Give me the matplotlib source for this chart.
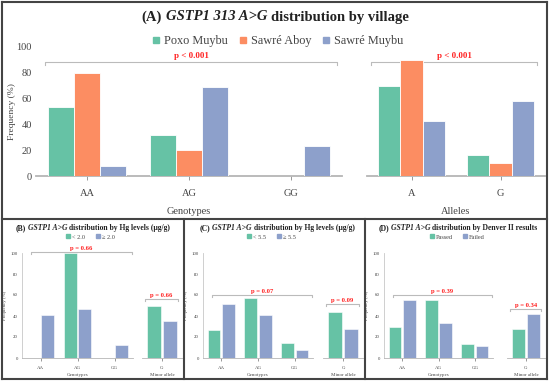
import matplotlib.pyplot as plt
import numpy as np
from matplotlib.lines import Line2D

plt.rcParams['font.family'] = ['Liberation Serif', 'DejaVu Serif']

W, H = 550, 382
GREEN, ORANGE, BLUE = '#66c2a5', '#fc8d62', '#8da0cb'
TXT = '#444444'

# (A) village panel
villages = ['Poxo Muybu', 'Sawré Aboy', 'Sawré Muybu']
genotypes = ['AA', 'AG', 'GG']
alleles = ['A', 'G']
village_genotype = [[53.5, 32, 0], [80, 20, 0], [8, 69, 23]]
village_allele = [[70, 16.5], [90, 10], [42.5, 58]]
village_p = ['p < 0.001', 'p < 0.001']

# (B)-(D) small panels
minor = ['G']
hg2_groups = ['< 2.0', '≥ 2.0']
hg2_genotype = [[0, 100, 0], [41, 46.5, 12]]
hg2_minor = [50, 35.5]
hg2_p = ['p = 0.66', 'p = 0.66']

hg55_groups = ['< 5.5', '≥ 5.5']
hg55_genotype = [[27, 57.5, 14.5], [51.5, 40.5, 8]]
hg55_minor = [43.5, 28]
hg55_p = ['p = 0.07', 'p = 0.09']

denver_groups = ['Passed', 'Failed']
denver_genotype = [[30, 55.5, 13.5], [55.5, 33, 11]]
denver_minor = [27.5, 41.5]
denver_p = ['p = 0.39', 'p = 0.34']

fig = plt.figure(figsize=(W / 100, H / 100), dpi=100)


def px_axes(x0, x1, ytop, ybot):
    return fig.add_axes([x0 / W, 1 - ybot / H, (x1 - x0) / W, (ybot - ytop) / H])


def rich_text(xc, yc, parts, size, color='#222222'):
    r = fig.canvas.get_renderer()

    def width(s, st):
        t = fig.text(0, 0, s, fontsize=size, fontweight='bold', fontstyle=st)
        w = t.get_window_extent(r).width
        t.remove()
        return w

    gap = width('n n', 'normal') - width('nn', 'normal')
    widths = [width(s, st) for s, st in parts]
    x = xc - (sum(widths) + gap * (len(parts) - 1)) / 2
    for (s, st), w in zip(parts, widths):
        fig.text(x / W, 1 - yc / H, s, fontsize=size, fontweight='bold',
                 fontstyle=st, ha='left', va='center', color=color)
        x += w + gap


def style_axis(ax, cats, size, tick_len, tick_pad, base_lw, show_y, left_spine):
    for s in ['top', 'right']:
        ax.spines[s].set_visible(False)
    ax.spines['bottom'].set_color('#b5b5b5')
    ax.spines['bottom'].set_linewidth(base_lw)
    ax.spines['left'].set_visible(left_spine)
    ax.spines['left'].set_color('#c8c8c8')
    ax.spines['left'].set_linewidth(0.6)
    ax.set_xticks(range(len(cats)))
    ax.set_xticklabels(cats)
    ax.set_xlim(-0.5, len(cats) - 0.5)
    ax.set_ylim(0, 100)
    ax.tick_params(axis='x', length=tick_len, width=0.6, color='#888888',
                   labelsize=size, labelcolor=TXT, pad=tick_pad)
    if show_y:
        ax.set_yticks(range(0, 101, 20))
        ax.tick_params(axis='y', length=0, labelsize=size, labelcolor=TXT, pad=3)
    else:
        ax.set_yticks([])
    ax.patch.set_alpha(0)


def bracket(ax, x0, x1, y, label, size, drop, dy):
    ax.plot([x0, x0, x1, x1], [y - drop, y, y, y - drop], color='#bbbbbb',
            lw=0.8, clip_on=False, zorder=2)
    ax.annotate(label, ((x0 + x1) / 2, y), xytext=(0, dy), textcoords='offset points',
                ha='center', va='bottom', color='#ff2222', fontsize=size,
                fontweight='bold', annotation_clip=False)


# ---------- panel A ----------
axg = px_axes(36, 342, 47, 176)
axa = px_axes(367, 545, 47, 176)
for ax, cats, data in [(axg, genotypes, village_genotype), (axa, alleles, village_allele)]:
    x = np.arange(len(cats))
    for i, (vals, col) in enumerate(zip(data, [GREEN, ORANGE, BLUE])):
        ax.bar(x + (i - 1) * 0.255, vals, width=0.25, color=col,
               edgecolor='white', linewidth=0.6, zorder=3)
style_axis(axg, genotypes, 7.5, 3, 6.5, 1.3, True, False)
style_axis(axa, alleles, 7.5, 3, 6.5, 1.3, False, False)
axg.set_xlabel('Genotypes', fontsize=7.5, color=TXT, labelpad=6)
axa.set_xlabel('Alleles', fontsize=7.5, color=TXT, labelpad=6)
axg.set_ylabel('Frequency (%)', fontsize=6.8, color=TXT, labelpad=0)
bracket(axg, -0.41, 2.45, 88.5, village_p[0], 6.5, 2.5, 1.5)
bracket(axa, -0.455, 1.41, 88.5, village_p[1], 6.5, 2.5, 1.5)

rich_text(275, 17, [('(A)', 'normal'), ('GSTP1 313 A>G', 'italic'),
                    ('distribution by village', 'normal')], 10.5)
handles = [Line2D([], [], marker='s', ls='', color=c, markersize=5)
           for c in [GREEN, ORANGE, BLUE]]
fig.legend(handles, villages, loc='center', bbox_to_anchor=(278 / W, 1 - 41 / H),
           ncol=3, frameon=False, fontsize=8.8, handlelength=0.6, handletextpad=0.35,
           columnspacing=0.9, labelcolor=TXT, borderpad=0, borderaxespad=0)

# ---------- panels B-D ----------
small = [
    ('(B)', 'distribution by Hg levels (μg/g)', hg2_groups, hg2_genotype, hg2_minor, hg2_p,
     (22, 133, 142, 182), 93, 90, (101, 56)),
    ('(C)', 'distribution by Hg levels (μg/g)', hg55_groups, hg55_genotype, hg55_minor, hg55_p,
     (203, 313, 323, 363), 277, 271, (60, 51.5)),
    ('(D)', 'distribution by Denver II results', denver_groups, denver_genotype, denver_minor,
     denver_p, (384, 493, 507, 545), 458, 457, (60, 46.5)),
]
for tag, rest, groups, gdata, mdata, pvals, xs, tx, lx, bys in small:
    ag = px_axes(xs[0], xs[1], 253, 358)
    am = px_axes(xs[2], xs[3], 253, 358)
    x = np.arange(3)
    for i, (vals, col) in enumerate(zip(gdata, [GREEN, BLUE])):
        ag.bar(x + (i - 0.5) * 0.4, vals, width=0.35, color=col,
               edgecolor='white', linewidth=0.4, zorder=3)
        am.bar([(i - 0.5) * 0.4], [mdata[i]], width=0.35, color=col,
               edgecolor='white', linewidth=0.4, zorder=3)
    style_axis(ag, genotypes, 3.5, 2, 3.8, 0.6, True, True)
    style_axis(am, minor, 3.5, 2, 3.8, 0.6, False, False)
    ag.set_xlabel('Genotypes', fontsize=3.6, color=TXT, labelpad=1.8)
    am.set_xlabel('Minor allele', fontsize=3.6, color=TXT, labelpad=1.8)
    ag.set_ylabel('Frequency (%)', fontsize=3.5, color=TXT, labelpad=2.5)
    bracket(ag, -0.25, 2.47, bys[0], pvals[0], 4.8, 2, 1)
    bracket(am, -0.42, 0.4, bys[1], pvals[1], 4.8, 2, 1)
    rich_text(tx, 228, [(tag, 'normal'), ('GSTP1 A>G', 'italic'), (rest, 'normal')], 5.5)
    h2 = [Line2D([], [], marker='s', ls='', color=c, markersize=3) for c in [GREEN, BLUE]]
    fig.legend(h2, groups, loc='center', bbox_to_anchor=(lx / W, 1 - 237 / H), ncol=2,
               frameon=False, fontsize=4.5, handlelength=0.8, handletextpad=0.2,
               columnspacing=1.7, labelcolor=TXT, borderpad=0, borderaxespad=0)

# ---------- frames ----------
frame = dict(color='#444444', lw=1.5, transform=fig.transFigure)
def fline(x0, y0, x1, y1):
    fig.add_artist(Line2D([x0 / W, x1 / W], [1 - y0 / H, 1 - y1 / H], **frame))
fline(2, 2, 547, 2)
fline(2, 379, 547, 379)
fline(2, 2, 2, 379)
fline(547, 2, 547, 379)
fline(2, 219, 547, 219)
fline(184, 219, 184, 379)
fline(365, 219, 365, 379)

fig.savefig('out.png', dpi=100)
